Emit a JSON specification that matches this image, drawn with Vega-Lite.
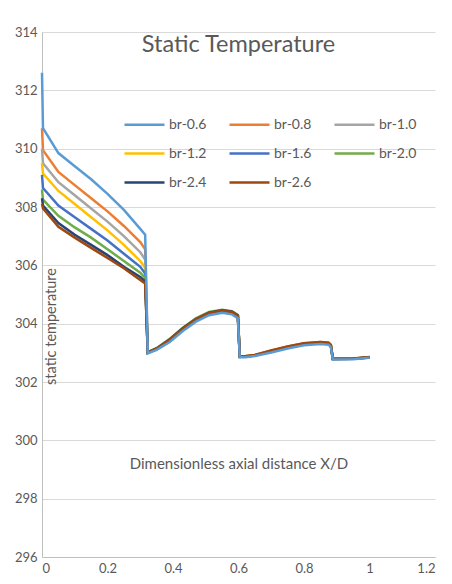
{
  "$schema": "https://vega.github.io/schema/vega-lite/v6.json",
  "width": 393,
  "height": 525,
  "autosize": {"type": "none"},
  "padding": {"left": 42, "top": 32, "right": 17, "bottom": 27},
  "background": "white",
  "title": {"text": "Static Temperature", "fontSize": 23.5, "fontWeight": "normal", "color": "#595959", "frame": "group", "anchor": "middle", "offset": -30},
  "config": {
    "font": "Lato",
    "view": {"stroke": null},
    "axis": {"ticks": false, "labelColor": "#595959", "labelFontSize": 13, "titleColor": "#595959", "titleFontWeight": "normal", "domainColor": "#bfbfbf", "gridColor": "#d9d9d9"}
  },
  "data": {"values": [
    {"s":"br-0.8","x":0,"y":310.7},{"s":"br-0.8","x":0.003,"y":309.95},{"s":"br-0.8","x":0.05,"y":309.2},{"s":"br-0.8","x":0.1,"y":308.75},{"s":"br-0.8","x":0.15,"y":308.3},{"s":"br-0.8","x":0.2,"y":307.85},{"s":"br-0.8","x":0.25,"y":307.35},{"s":"br-0.8","x":0.3,"y":306.8},{"s":"br-0.8","x":0.315,"y":306.55},{"s":"br-0.8","x":0.323,"y":303.02},{"s":"br-0.8","x":0.35,"y":303.15},{"s":"br-0.8","x":0.39,"y":303.46},{"s":"br-0.8","x":0.43,"y":303.84},{"s":"br-0.8","x":0.47,"y":304.16},{"s":"br-0.8","x":0.51,"y":304.38},{"s":"br-0.8","x":0.55,"y":304.46},{"s":"br-0.8","x":0.58,"y":304.41},{"s":"br-0.8","x":0.598,"y":304.28},{"s":"br-0.8","x":0.604,"y":302.88},{"s":"br-0.8","x":0.62,"y":302.88},{"s":"br-0.8","x":0.65,"y":302.93},{"s":"br-0.8","x":0.7,"y":303.08},{"s":"br-0.8","x":0.75,"y":303.22},{"s":"br-0.8","x":0.8,"y":303.33},{"s":"br-0.8","x":0.85,"y":303.37},{"s":"br-0.8","x":0.875,"y":303.35},{"s":"br-0.8","x":0.882,"y":303.27},{"s":"br-0.8","x":0.888,"y":302.8},{"s":"br-0.8","x":0.95,"y":302.81},{"s":"br-0.8","x":1.0,"y":302.85},
    {"s":"br-1.0","x":0,"y":310.0},{"s":"br-1.0","x":0.003,"y":309.5},{"s":"br-1.0","x":0.05,"y":308.85},{"s":"br-1.0","x":0.1,"y":308.4},{"s":"br-1.0","x":0.15,"y":307.95},{"s":"br-1.0","x":0.2,"y":307.5},{"s":"br-1.0","x":0.25,"y":307.0},{"s":"br-1.0","x":0.3,"y":306.45},{"s":"br-1.0","x":0.315,"y":306.2},{"s":"br-1.0","x":0.323,"y":303.01},{"s":"br-1.0","x":0.35,"y":303.14},{"s":"br-1.0","x":0.39,"y":303.45},{"s":"br-1.0","x":0.43,"y":303.83},{"s":"br-1.0","x":0.47,"y":304.15},{"s":"br-1.0","x":0.51,"y":304.37},{"s":"br-1.0","x":0.55,"y":304.45},{"s":"br-1.0","x":0.58,"y":304.4},{"s":"br-1.0","x":0.598,"y":304.27},{"s":"br-1.0","x":0.604,"y":302.87},{"s":"br-1.0","x":0.62,"y":302.87},{"s":"br-1.0","x":0.65,"y":302.92},{"s":"br-1.0","x":0.7,"y":303.06},{"s":"br-1.0","x":0.75,"y":303.2},{"s":"br-1.0","x":0.8,"y":303.31},{"s":"br-1.0","x":0.85,"y":303.35},{"s":"br-1.0","x":0.875,"y":303.33},{"s":"br-1.0","x":0.882,"y":303.25},{"s":"br-1.0","x":0.888,"y":302.79},{"s":"br-1.0","x":0.95,"y":302.8},{"s":"br-1.0","x":1.0,"y":302.85},
    {"s":"br-1.2","x":0,"y":309.5},{"s":"br-1.2","x":0.003,"y":309.15},{"s":"br-1.2","x":0.05,"y":308.55},{"s":"br-1.2","x":0.1,"y":308.1},{"s":"br-1.2","x":0.15,"y":307.65},{"s":"br-1.2","x":0.2,"y":307.2},{"s":"br-1.2","x":0.25,"y":306.7},{"s":"br-1.2","x":0.3,"y":306.15},{"s":"br-1.2","x":0.315,"y":305.92},{"s":"br-1.2","x":0.323,"y":303.0},{"s":"br-1.2","x":0.35,"y":303.13},{"s":"br-1.2","x":0.39,"y":303.44},{"s":"br-1.2","x":0.43,"y":303.82},{"s":"br-1.2","x":0.47,"y":304.14},{"s":"br-1.2","x":0.51,"y":304.36},{"s":"br-1.2","x":0.55,"y":304.44},{"s":"br-1.2","x":0.58,"y":304.39},{"s":"br-1.2","x":0.598,"y":304.26},{"s":"br-1.2","x":0.604,"y":302.86},{"s":"br-1.2","x":0.62,"y":302.87},{"s":"br-1.2","x":0.65,"y":302.91},{"s":"br-1.2","x":0.7,"y":303.05},{"s":"br-1.2","x":0.75,"y":303.19},{"s":"br-1.2","x":0.8,"y":303.3},{"s":"br-1.2","x":0.85,"y":303.34},{"s":"br-1.2","x":0.875,"y":303.32},{"s":"br-1.2","x":0.882,"y":303.24},{"s":"br-1.2","x":0.888,"y":302.79},{"s":"br-1.2","x":0.95,"y":302.8},{"s":"br-1.2","x":1.0,"y":302.84},
    {"s":"br-1.6","x":0,"y":309.1},{"s":"br-1.6","x":0.003,"y":308.65},{"s":"br-1.6","x":0.05,"y":308.05},{"s":"br-1.6","x":0.1,"y":307.65},{"s":"br-1.6","x":0.15,"y":307.25},{"s":"br-1.6","x":0.2,"y":306.85},{"s":"br-1.6","x":0.25,"y":306.4},{"s":"br-1.6","x":0.3,"y":305.95},{"s":"br-1.6","x":0.315,"y":305.72},{"s":"br-1.6","x":0.323,"y":303.0},{"s":"br-1.6","x":0.35,"y":303.14},{"s":"br-1.6","x":0.39,"y":303.45},{"s":"br-1.6","x":0.43,"y":303.83},{"s":"br-1.6","x":0.47,"y":304.15},{"s":"br-1.6","x":0.51,"y":304.37},{"s":"br-1.6","x":0.55,"y":304.45},{"s":"br-1.6","x":0.58,"y":304.4},{"s":"br-1.6","x":0.598,"y":304.27},{"s":"br-1.6","x":0.604,"y":302.86},{"s":"br-1.6","x":0.62,"y":302.87},{"s":"br-1.6","x":0.65,"y":302.91},{"s":"br-1.6","x":0.7,"y":303.05},{"s":"br-1.6","x":0.75,"y":303.19},{"s":"br-1.6","x":0.8,"y":303.3},{"s":"br-1.6","x":0.85,"y":303.34},{"s":"br-1.6","x":0.875,"y":303.32},{"s":"br-1.6","x":0.882,"y":303.24},{"s":"br-1.6","x":0.888,"y":302.79},{"s":"br-1.6","x":0.95,"y":302.8},{"s":"br-1.6","x":1.0,"y":302.84},
    {"s":"br-2.0","x":0,"y":308.6},{"s":"br-2.0","x":0.003,"y":308.25},{"s":"br-2.0","x":0.05,"y":307.7},{"s":"br-2.0","x":0.1,"y":307.3},{"s":"br-2.0","x":0.15,"y":306.95},{"s":"br-2.0","x":0.2,"y":306.55},{"s":"br-2.0","x":0.25,"y":306.15},{"s":"br-2.0","x":0.3,"y":305.75},{"s":"br-2.0","x":0.315,"y":305.57},{"s":"br-2.0","x":0.323,"y":303.02},{"s":"br-2.0","x":0.35,"y":303.16},{"s":"br-2.0","x":0.39,"y":303.48},{"s":"br-2.0","x":0.43,"y":303.86},{"s":"br-2.0","x":0.47,"y":304.18},{"s":"br-2.0","x":0.51,"y":304.4},{"s":"br-2.0","x":0.55,"y":304.48},{"s":"br-2.0","x":0.58,"y":304.43},{"s":"br-2.0","x":0.598,"y":304.3},{"s":"br-2.0","x":0.604,"y":302.87},{"s":"br-2.0","x":0.62,"y":302.88},{"s":"br-2.0","x":0.65,"y":302.92},{"s":"br-2.0","x":0.7,"y":303.06},{"s":"br-2.0","x":0.75,"y":303.2},{"s":"br-2.0","x":0.8,"y":303.31},{"s":"br-2.0","x":0.85,"y":303.35},{"s":"br-2.0","x":0.875,"y":303.33},{"s":"br-2.0","x":0.882,"y":303.25},{"s":"br-2.0","x":0.888,"y":302.8},{"s":"br-2.0","x":0.95,"y":302.8},{"s":"br-2.0","x":1.0,"y":302.85},
    {"s":"br-2.4","x":0,"y":308.3},{"s":"br-2.4","x":0.003,"y":308.05},{"s":"br-2.4","x":0.05,"y":307.45},{"s":"br-2.4","x":0.1,"y":307.05},{"s":"br-2.4","x":0.15,"y":306.7},{"s":"br-2.4","x":0.2,"y":306.35},{"s":"br-2.4","x":0.25,"y":305.95},{"s":"br-2.4","x":0.3,"y":305.6},{"s":"br-2.4","x":0.315,"y":305.45},{"s":"br-2.4","x":0.323,"y":303.01},{"s":"br-2.4","x":0.35,"y":303.15},{"s":"br-2.4","x":0.39,"y":303.46},{"s":"br-2.4","x":0.43,"y":303.84},{"s":"br-2.4","x":0.47,"y":304.16},{"s":"br-2.4","x":0.51,"y":304.38},{"s":"br-2.4","x":0.55,"y":304.46},{"s":"br-2.4","x":0.58,"y":304.41},{"s":"br-2.4","x":0.598,"y":304.28},{"s":"br-2.4","x":0.604,"y":302.87},{"s":"br-2.4","x":0.62,"y":302.87},{"s":"br-2.4","x":0.65,"y":302.91},{"s":"br-2.4","x":0.7,"y":303.05},{"s":"br-2.4","x":0.75,"y":303.19},{"s":"br-2.4","x":0.8,"y":303.3},{"s":"br-2.4","x":0.85,"y":303.34},{"s":"br-2.4","x":0.875,"y":303.32},{"s":"br-2.4","x":0.882,"y":303.24},{"s":"br-2.4","x":0.888,"y":302.79},{"s":"br-2.4","x":0.95,"y":302.8},{"s":"br-2.4","x":1.0,"y":302.84},
    {"s":"br-2.6","x":0,"y":308.1},{"s":"br-2.6","x":0.003,"y":307.95},{"s":"br-2.6","x":0.05,"y":307.32},{"s":"br-2.6","x":0.1,"y":306.95},{"s":"br-2.6","x":0.15,"y":306.6},{"s":"br-2.6","x":0.2,"y":306.25},{"s":"br-2.6","x":0.25,"y":305.9},{"s":"br-2.6","x":0.3,"y":305.5},{"s":"br-2.6","x":0.315,"y":305.38},{"s":"br-2.6","x":0.323,"y":303.02},{"s":"br-2.6","x":0.35,"y":303.14},{"s":"br-2.6","x":0.39,"y":303.45},{"s":"br-2.6","x":0.43,"y":303.83},{"s":"br-2.6","x":0.47,"y":304.15},{"s":"br-2.6","x":0.51,"y":304.37},{"s":"br-2.6","x":0.55,"y":304.45},{"s":"br-2.6","x":0.58,"y":304.4},{"s":"br-2.6","x":0.598,"y":304.27},{"s":"br-2.6","x":0.604,"y":302.88},{"s":"br-2.6","x":0.62,"y":302.88},{"s":"br-2.6","x":0.65,"y":302.93},{"s":"br-2.6","x":0.7,"y":303.08},{"s":"br-2.6","x":0.75,"y":303.22},{"s":"br-2.6","x":0.8,"y":303.33},{"s":"br-2.6","x":0.85,"y":303.37},{"s":"br-2.6","x":0.875,"y":303.35},{"s":"br-2.6","x":0.882,"y":303.27},{"s":"br-2.6","x":0.888,"y":302.8},{"s":"br-2.6","x":0.95,"y":302.81},{"s":"br-2.6","x":1.0,"y":302.86},
    {"s":"br-0.6","x":0,"y":312.6},{"s":"br-0.6","x":0.003,"y":310.7},{"s":"br-0.6","x":0.05,"y":309.85},{"s":"br-0.6","x":0.1,"y":309.4},{"s":"br-0.6","x":0.15,"y":308.95},{"s":"br-0.6","x":0.2,"y":308.45},{"s":"br-0.6","x":0.25,"y":307.9},{"s":"br-0.6","x":0.3,"y":307.25},{"s":"br-0.6","x":0.315,"y":307.05},{"s":"br-0.6","x":0.323,"y":302.98},{"s":"br-0.6","x":0.35,"y":303.1},{"s":"br-0.6","x":0.39,"y":303.37},{"s":"br-0.6","x":0.43,"y":303.75},{"s":"br-0.6","x":0.47,"y":304.07},{"s":"br-0.6","x":0.51,"y":304.29},{"s":"br-0.6","x":0.55,"y":304.37},{"s":"br-0.6","x":0.58,"y":304.32},{"s":"br-0.6","x":0.598,"y":304.19},{"s":"br-0.6","x":0.604,"y":302.85},{"s":"br-0.6","x":0.62,"y":302.85},{"s":"br-0.6","x":0.65,"y":302.89},{"s":"br-0.6","x":0.7,"y":303.01},{"s":"br-0.6","x":0.75,"y":303.15},{"s":"br-0.6","x":0.8,"y":303.26},{"s":"br-0.6","x":0.85,"y":303.3},{"s":"br-0.6","x":0.875,"y":303.28},{"s":"br-0.6","x":0.882,"y":303.2},{"s":"br-0.6","x":0.888,"y":302.77},{"s":"br-0.6","x":0.95,"y":302.78},{"s":"br-0.6","x":1.0,"y":302.83}
  ]},
  "mark": {"type": "line", "strokeWidth": 2.5, "clip": false},
  "encoding": {
    "x": {"field": "x", "type": "quantitative",
      "scale": {"domain": [0, 1.2], "nice": false},
      "axis": {"values": [0, 0.2, 0.4, 0.6, 0.8, 1, 1.2], "format": "~g", "grid": false, "labelPadding": 5, "title": "Dimensionless axial distance X/D", "titleFontSize": 15, "titleY": -94, "titleBaseline": "middle"}},
    "y": {"field": "y", "type": "quantitative",
      "scale": {"domain": [296, 314], "zero": false, "nice": false},
      "axis": {"values": [296, 298, 300, 302, 304, 306, 308, 310, 312, 314], "grid": true, "labelPadding": 5, "title": "static temperature", "titleFontSize": 14.5, "titleX": 13, "titleY": 294, "titleAngle": 270, "titleBaseline": "alphabetic", "titleAlign": "center"}},
    "color": {"field": "s", "type": "nominal",
      "scale": {"domain": ["br-0.6", "br-0.8", "br-1.0", "br-1.2", "br-1.6", "br-2.0", "br-2.4", "br-2.6"],
                "range": ["#5B9BD5", "#ED7D31", "#A5A5A5", "#FFC000", "#4472C4", "#70AD47", "#264478", "#9E480E"]},
      "legend": {"title": null, "orient": "none", "legendX": 81, "legendY": 71, "direction": "horizontal", "columns": 3, "symbolType": "stroke", "symbolSize": 1600, "symbolStrokeWidth": 2.5, "labelFontSize": 14, "labelColor": "#595959", "labelOffset": 3, "columnPadding": 17, "rowPadding": -0.5}}
  }
}
